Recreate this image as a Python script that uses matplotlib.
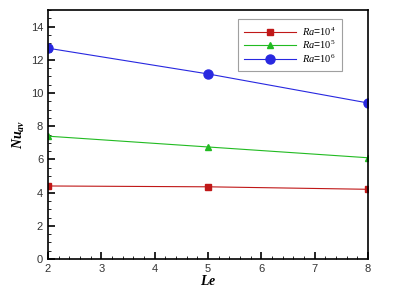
import matplotlib
matplotlib.use("Agg")
import matplotlib.pyplot as plt
from matplotlib.ticker import MultipleLocator

le = [2, 5, 8]
nu_ra4 = [4.4, 4.35, 4.2]
nu_ra5 = [7.4, 6.75, 6.1]
nu_ra6 = [12.7, 11.15, 9.4]
labels = [r"$Ra$=$10^4$", r"$Ra$=$10^5$", r"$Ra$=$10^6$"]

plt.rcParams["font.family"] = "Liberation Sans"
plt.rcParams["mathtext.fontset"] = "custom"
plt.rcParams["mathtext.it"] = "Liberation Serif:italic"
plt.rcParams["mathtext.rm"] = "Liberation Serif"
plt.rcParams["mathtext.bf"] = "Liberation Serif:bold:italic"

fig = plt.figure(figsize=(3.97, 2.95), dpi=100)
ax = fig.add_axes([0.121, 0.122, 0.806, 0.844])

ax.plot(le, nu_ra4, color="#c01818", lw=0.8, marker="s", ms=4, label=labels[0])
ax.plot(le, nu_ra5, color="#22bb22", lw=0.8, marker="^", ms=4, label=labels[1])
ax.plot(le, nu_ra6, color="#2828e0", lw=0.8, marker="o", ms=6.5, label=labels[2])

ax.set_xlim(2, 8)
ax.set_ylim(0, 15)
ax.xaxis.set_major_locator(MultipleLocator(1))
ax.xaxis.set_minor_locator(MultipleLocator(0.2))
ax.yaxis.set_major_locator(MultipleLocator(2))
ax.yaxis.set_minor_locator(MultipleLocator(0.5))
ax.tick_params(which="major", direction="in", length=5, width=1.2, labelsize=8, colors="black", labelcolor="#333333")
ax.tick_params(which="minor", direction="in", length=2.5, width=0.6)
for s in ax.spines.values():
    s.set_linewidth(1.2)

ax.set_xlabel(r"$\mathbf{Le}$", fontsize=10, labelpad=0)
ax.set_ylabel(r"$\mathbf{Nu_{av}}$", fontsize=10, labelpad=3)

leg = ax.legend(loc="upper right", bbox_to_anchor=(0.936, 0.985), fontsize=7.5,
                frameon=True, fancybox=False, edgecolor="#888888",
                handlelength=5, borderpad=0.6, labelspacing=0.1, handletextpad=0.6)
leg.get_frame().set_linewidth(0.8)

fig.savefig("out.png", dpi=100)
